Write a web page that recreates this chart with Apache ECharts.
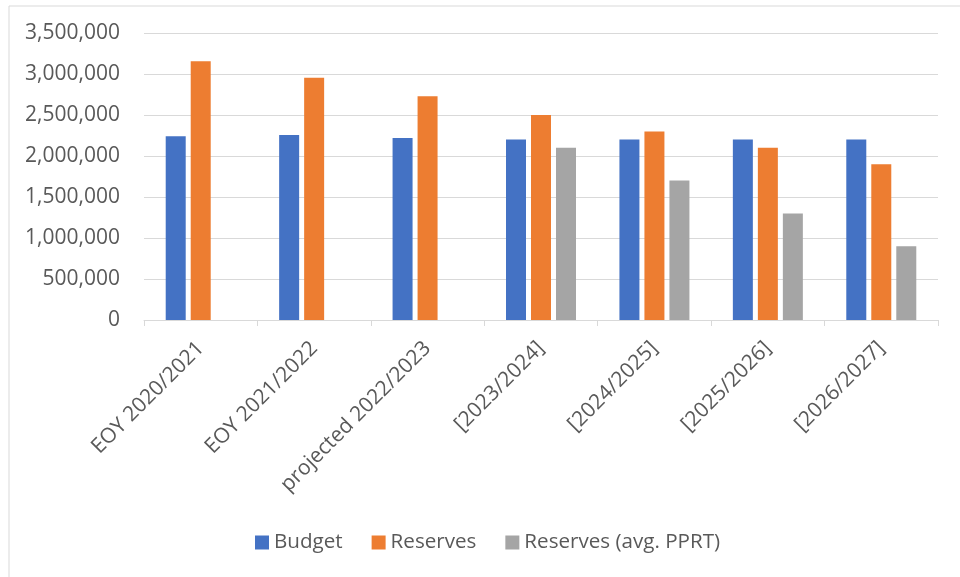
<!DOCTYPE html>
<html>
<head>
<meta charset="utf-8">
<script src="https://cdn.jsdelivr.net/npm/echarts@6/dist/echarts.min.js"></script>
<style>
html,body{margin:0;padding:0;background:#fff;}
#chart{width:960px;height:577px;}
</style>
</head>
<body>
<div id="chart"></div>
<script>
var categories = ['EOY 2020/2021', 'EOY 2021/2022', 'projected 2022/2023', '[2023/2024]', '[2024/2025]', '[2025/2026]', '[2026/2027]'];
var budget = [2240000, 2256000, 2220000, 2200000, 2200000, 2200000, 2200000];
var reserves = [3155000, 2955000, 2730000, 2500000, 2300000, 2100000, 1900000];
var reservesAvg = [null, null, null, 2100000, 1700000, 1300000, 900000];
var seriesNames = ['Budget', 'Reserves', 'Reserves (avg. PPRT)'];
var colors = ['#4472C4', '#ED7D31', '#A5A5A5'];

var FONT = 'Open Sans';
var chart = echarts.init(document.getElementById('chart'));
function bar(name, data, color) {
  return {
    name: name, type: 'bar', data: data, barWidth: 20, barGap: '25%',
    itemStyle: { color: color }
  };
}
chart.setOption({
  animation: false,
  textStyle: { fontFamily: FONT },
  graphic: [{
    type: 'rect', left: 6.5, top: 3.5, shape: { width: 2000, height: 2000 },
    style: { fill: 'none', stroke: '#d9d9d9', lineWidth: 1 }, silent: true
  }],
  grid: { left: 144, right: 22, top: 33, bottom: 257, containLabel: false },
  legend: {
    data: seriesNames, bottom: 24, left: 255, padding: 0,
    itemWidth: 14, itemHeight: 14, itemGap: 29, icon: 'rect',
    textStyle: { color: '#595959', fontSize: 20.6, fontFamily: FONT, padding: [0, 0, 0, 0] }
  },
  xAxis: {
    type: 'category', data: categories,
    axisLine: { lineStyle: { color: '#d9d9d9', width: 1 } },
    axisTick: { show: true, length: 6, lineStyle: { color: '#d9d9d9' } },
    axisLabel: { rotate: 45, color: '#595959', fontSize: 21, margin: 25, fontFamily: FONT, interval: 0 }
  },
  yAxis: {
    type: 'value', min: 0, max: 3500000, interval: 500000,
    axisLine: { show: false }, axisTick: { show: false },
    splitLine: { lineStyle: { color: '#d9d9d9', width: 1 } },
    axisLabel: {
      color: '#595959', fontSize: 21, margin: 24, fontFamily: FONT,
      formatter: function (v) { return v.toLocaleString('en-US'); }
    }
  },
  series: [
    bar(seriesNames[0], budget, colors[0]),
    bar(seriesNames[1], reserves, colors[1]),
    bar(seriesNames[2], reservesAvg, colors[2])
  ]
});
</script>
</body>
</html>
